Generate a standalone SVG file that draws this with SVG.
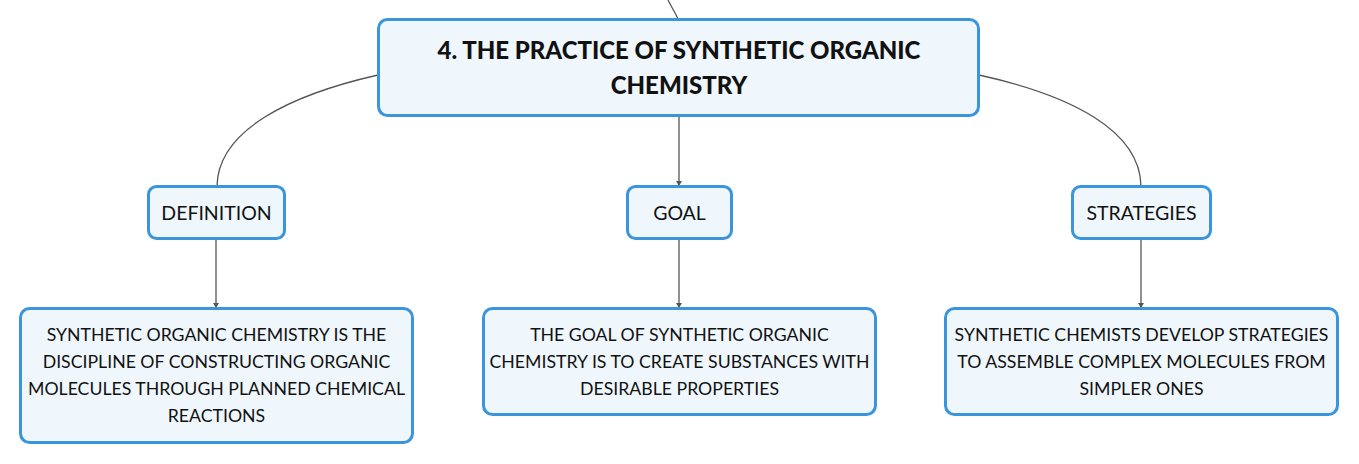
<svg xmlns="http://www.w3.org/2000/svg" width="1359" height="464" viewBox="0 0 1359 464">
<style>
.box{fill:#eff7fd;stroke:#3a95dd;stroke-width:3}
.t{font-family:Lato,"Open Sans",sans-serif;font-size:17.7px;fill:#111;text-anchor:middle}
.l{font-family:Lato,"Open Sans",sans-serif;font-size:19.5px;fill:#111;text-anchor:middle}
.h{font-family:Lato,"Open Sans",sans-serif;font-size:24px;font-weight:900;fill:#111;text-anchor:middle}
.c{fill:none;stroke:#555;stroke-width:1.3}
</style>
<defs>
<marker id="a" markerWidth="6" markerHeight="6" refX="5" refY="3" orient="auto" markerUnits="userSpaceOnUse">
<path d="M0,0 L5,3 L0,6 z" fill="#555"/>
</marker>
</defs>
<rect width="1359" height="464" fill="#fff"/>
<g id="connectors">
<path class="c" d="M668,0 C672,8 676,14 678,19"/>
<path class="c" d="M378,75 C290,95 218,130 217,186"/>
<path class="c" d="M979,75 C1070,95 1140,130 1141,186"/>
<path class="c" marker-end="url(#a)" d="M679,117 L679,186"/>
<path class="c" marker-end="url(#a)" d="M216,239 L216,308"/>
<path class="c" marker-end="url(#a)" d="M679,239 L679,308"/>
<path class="c" marker-end="url(#a)" d="M1141,239 L1141,308"/>
</g>
<g id="main">
<rect class="box" x="378.5" y="19.5" width="600" height="96" rx="9"/>
<text class="h" x="679" y="58.5">4. THE PRACTICE OF SYNTHETIC ORGANIC</text>
<text class="h" x="679" y="94">CHEMISTRY</text>
</g>
<g id="definition">
<rect class="box" x="148.5" y="186.5" width="136" height="52" rx="8"/>
<text class="l" x="216.5" y="219.5">DEFINITION</text>
</g>
<g id="goal">
<rect class="box" x="627.5" y="186.5" width="104" height="52" rx="8"/>
<text class="l" x="679.5" y="219.5">GOAL</text>
</g>
<g id="strategies">
<rect class="box" x="1072.5" y="186.5" width="138" height="52" rx="8"/>
<text class="l" x="1141.5" y="219.5">STRATEGIES</text>
</g>
<g id="definition-text">
<rect class="box" x="20.5" y="308.5" width="392" height="134" rx="9"/>
<text class="t" x="216.5" y="340.5">SYNTHETIC ORGANIC CHEMISTRY IS THE</text>
<text class="t" x="216.5" y="367.5">DISCIPLINE OF CONSTRUCTING ORGANIC</text>
<text class="t" x="216.5" y="394.5">MOLECULES THROUGH PLANNED CHEMICAL</text>
<text class="t" x="216.5" y="421.5">REACTIONS</text>
</g>
<g id="goal-text">
<rect class="box" x="483.5" y="308.5" width="392" height="106" rx="9"/>
<text class="t" x="679.5" y="340.5">THE GOAL OF SYNTHETIC ORGANIC</text>
<text class="t" x="679.5" y="367.5">CHEMISTRY IS TO CREATE SUBSTANCES WITH</text>
<text class="t" x="679.5" y="394.5">DESIRABLE PROPERTIES</text>
</g>
<g id="strategies-text">
<rect class="box" x="945.5" y="308.5" width="392" height="106" rx="9"/>
<text class="t" x="1141.5" y="340.5">SYNTHETIC CHEMISTS DEVELOP STRATEGIES</text>
<text class="t" x="1141.5" y="367.5">TO ASSEMBLE COMPLEX MOLECULES FROM</text>
<text class="t" x="1141.5" y="394.5">SIMPLER ONES</text>
</g>
</svg>
